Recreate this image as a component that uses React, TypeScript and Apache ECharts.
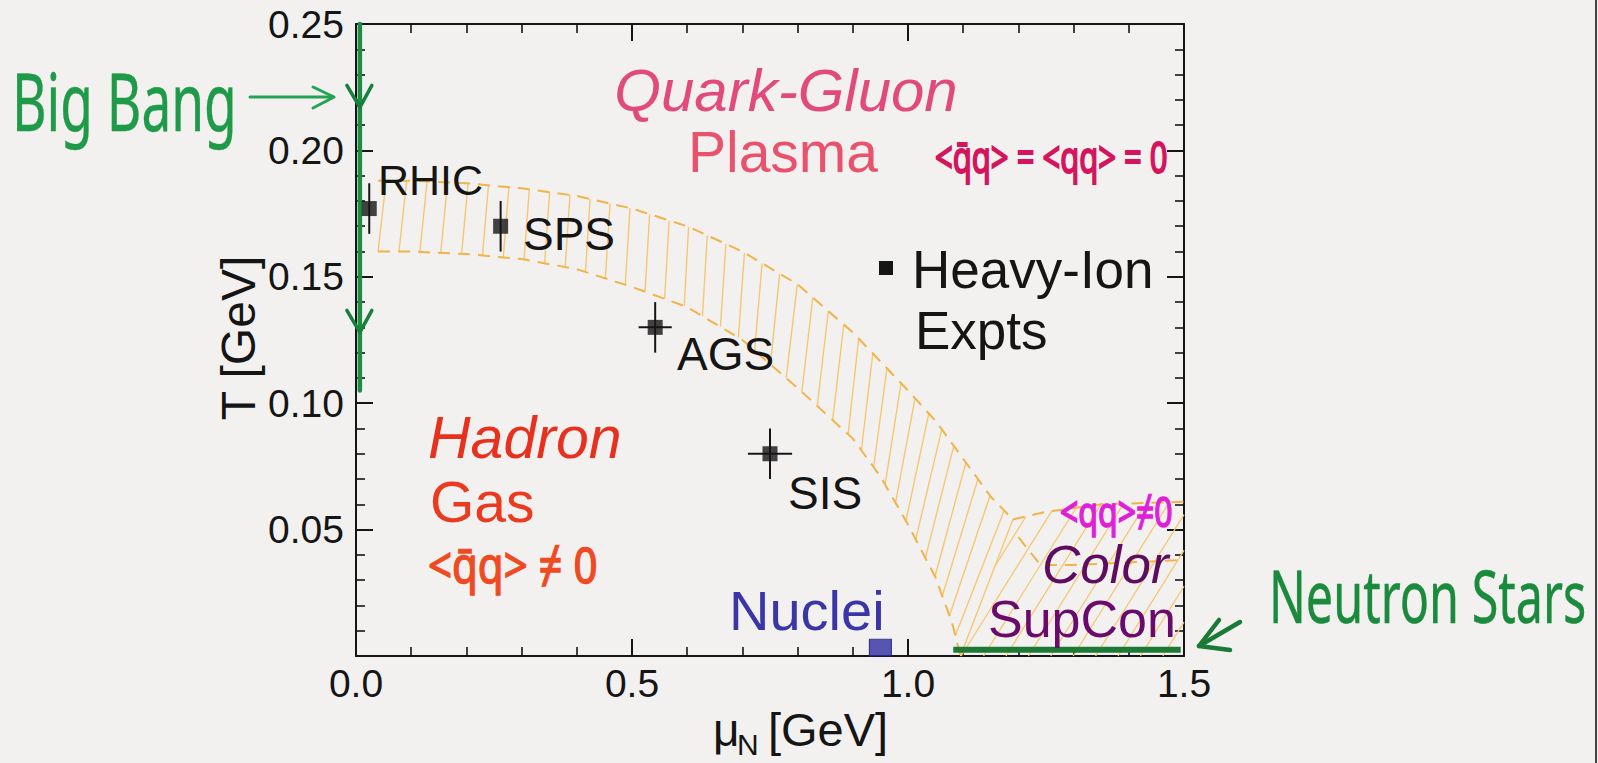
import React, { useEffect, useRef } from "react";
import * as echarts from "echarts";

// ---------- data ----------
const expNames = ["RHIC", "SPS", "AGS", "SIS"];
const expMu = [0.024, 0.262, 0.542, 0.75];
const expT = [0.177, 0.17, 0.13, 0.08];
const expMuErr = [0, 0, 0.03, 0.04];
const expTErr = [0.01, 0.01, 0.01, 0.01];

const nucleiMu = [0.95];
const nucleiT = [0.0033];

// transition band (hadron gas <-> QGP)
const bandUpperMu = [0.04, 0.1, 0.2, 0.3, 0.4, 0.5, 0.6, 0.7, 0.8, 0.9, 1.0, 1.05, 1.1, 1.15, 1.19];
const bandUpperT = [0.188, 0.188, 0.187, 0.185, 0.182, 0.177, 0.17, 0.16, 0.147, 0.128, 0.105, 0.093, 0.078, 0.063, 0.054];
const bandLowerMu = [0.04, 0.1, 0.2, 0.3, 0.4, 0.5, 0.6, 0.7, 0.8, 0.9, 0.95, 1.0, 1.05, 1.08, 1.095];
const bandLowerT = [0.16, 0.16, 0.159, 0.157, 0.153, 0.146, 0.138, 0.125, 0.106, 0.086, 0.071, 0.052, 0.031, 0.013, 0];

// color superconductor band
const cscUpperMu = [1.19, 1.25, 1.35, 1.5];
const cscUpperT = [0.054, 0.057, 0.06, 0.061];
const cscLowerMu = [1.2, 1.24, 1.3, 1.5];
const cscLowerT = [0.047, 0.036, 0.036, 0.038];

// annotations
const bigBangMu = [0.007, 0.007];
const bigBangT = [0.25, 0.105];
const bigBangArrowT = [0.217, 0.128];
const neutronMu = [1.082, 1.494];
const neutronT = [0.0025, 0.0025];

const xTicks = [0, 0.5, 1.0, 1.5];
const yTicks = [0.05, 0.1, 0.15, 0.2, 0.25];

// ---------- styles ----------
const SANS = "'Liberation Sans', Arial, Helvetica, sans-serif";
const HAND = "'Noto Sans', sans-serif";
const BG = "#f3f1f0";
const INK = "#151515";
const BAND_EDGE = "#f0b44a";
const BAND_HATCH = "#f6c772";

type P = number[];

function cum(p: P[]) {
  const c = [0];
  for (let i = 1; i < p.length; i++) c.push(c[i - 1] + Math.hypot(p[i][0] - p[i - 1][0], p[i][1] - p[i - 1][1]));
  return c;
}
function at(p: P[], c: number[], d: number): P {
  const L = c[c.length - 1];
  d = Math.max(0, Math.min(L, d));
  for (let i = 1; i < p.length; i++) {
    if (d <= c[i] || i === p.length - 1) {
      const seg = c[i] - c[i - 1] || 1;
      const t = (d - c[i - 1]) / seg;
      return [p[i - 1][0] + t * (p[i][0] - p[i - 1][0]), p[i - 1][1] + t * (p[i][1] - p[i - 1][1])];
    }
  }
  return p[p.length - 1];
}
function hatch(poly: P[], angleDeg: number, spacing: number) {
  const th = (angleDeg * Math.PI) / 180;
  const d = [Math.cos(th), -Math.sin(th)];
  const n = [Math.sin(th), Math.cos(th)];
  const proj = poly.map((p) => p[0] * n[0] + p[1] * n[1]);
  const cmin = Math.min(...proj);
  const cmax = Math.max(...proj);
  const segs: number[][] = [];
  for (let c = cmin + spacing / 2; c < cmax; c += spacing) {
    const ss: number[][] = [];
    for (let i = 0; i < poly.length; i++) {
      const j = (i + 1) % poly.length;
      const fa = proj[i] - c;
      const fb = proj[j] - c;
      if (fa < 0 !== fb < 0) {
        const t = fa / (fa - fb);
        const x = poly[i][0] + t * (poly[j][0] - poly[i][0]);
        const y = poly[i][1] + t * (poly[j][1] - poly[i][1]);
        ss.push([x * d[0] + y * d[1], x, y]);
      }
    }
    ss.sort((u, v) => u[0] - v[0]);
    for (let k = 0; k + 1 < ss.length; k += 2) segs.push([ss[k][1], ss[k][2], ss[k + 1][1], ss[k + 1][2]]);
  }
  return segs;
}

function txt(text: string, x: number, y: number, size: number, color: string, o: any = {}) {
  return {
    type: "text",
    x,
    y,
    rotation: o.rot ?? 0,
    scaleX: o.sx ?? 1,
    scaleY: o.sy ?? 1,
    z: 100,
    silent: true,
    style: {
      text,
      x: 0,
      y: 0,
      fill: color,
      fontSize: size,
      fontFamily: o.family ?? SANS,
      fontStyle: o.italic ? "italic" : "normal",
      fontWeight: o.weight ?? "normal",
      textAlign: o.align ?? "left",
      textVerticalAlign: "middle",
      verticalAlign: "middle",
      stroke: o.stroke,
      lineWidth: o.strokeW ?? 0,
    },
  };
}

export default function App() {
  const ref = useRef<HTMLDivElement>(null);
  useEffect(() => {
    if (!ref.current) return;
    const chart = echarts.init(ref.current, undefined, { renderer: "svg" });

    const axisCommon = {
      axisLine: { show: true, onZero: false, lineStyle: { color: INK, width: 2 } },
      axisTick: { show: true, inside: true, length: 17, lineStyle: { color: INK, width: 2 } },
      minorTick: { show: true, splitNumber: 5, length: 9, lineStyle: { color: INK, width: 1.6 } },
      splitLine: { show: false },
      minorSplitLine: { show: false },
    };

    const bandSeries = {
      type: "custom",
      silent: true,
      z: 1,
      data: [[0, 0]],
      renderItem: (_p: any, api: any) => {
        const up = bandUpperMu.map((m, i) => api.coord([m, bandUpperT[i]]));
        const lo = bandLowerMu.map((m, i) => api.coord([m, bandLowerT[i]]));
        const cu = cum(up);
        const cl = cum(lo);
        const Lu = cu[cu.length - 1];
        const Ll = cl[cl.length - 1];
        const n = Math.round(Ll / 21);
        const children: any[] = [];
        for (let k = 0; k <= n; k++) {
          const t = k / n;
          const a = at(lo, cl, t * Ll);
          const b = at(up, cu, t * Lu + 8);
          children.push({
            type: "line",
            shape: { x1: a[0], y1: a[1], x2: b[0], y2: b[1] },
            style: { stroke: BAND_HATCH, lineWidth: 1.4 },
          });
        }
        // csc region hatch
        const cscPoly = [
          api.coord([bandLowerMu[bandLowerMu.length - 1], 0]),
          ...cscUpperMu.map((m, i) => api.coord([m, cscUpperT[i]])),
          api.coord([1.5, 0]),
        ];
        hatch(cscPoly, 58, 19).forEach((s) =>
          children.push({
            type: "line",
            shape: { x1: s[0], y1: s[1], x2: s[2], y2: s[3] },
            style: { stroke: BAND_HATCH, lineWidth: 1.3 },
          })
        );
        const dashed = (pts: P[]) => ({
          type: "polyline",
          shape: { points: pts },
          style: { stroke: BAND_EDGE, lineWidth: 2, lineDash: [12, 8], fill: null },
        });
        children.push(dashed(up));
        children.push(dashed(lo));
        children.push(dashed(cscUpperMu.map((m, i) => api.coord([m, cscUpperT[i]]))));
        children.push(dashed(cscLowerMu.map((m, i) => api.coord([m, cscLowerT[i]]))));
        return { type: "group", children };
      },
    };

    const errSeries = {
      type: "custom",
      silent: true,
      z: 5,
      data: expMu.map((m, i) => [m, expT[i], expMuErr[i], expTErr[i]]),
      renderItem: (_p: any, api: any) => {
        const x = api.value(0), y = api.value(1), ex = api.value(2), ey = api.value(3);
        const children: any[] = [];
        const s = { stroke: INK, lineWidth: 2 };
        const a = api.coord([x, y - ey]);
        const b = api.coord([x, y + ey]);
        children.push({ type: "line", shape: { x1: a[0], y1: a[1], x2: b[0], y2: b[1] }, style: s });
        if (ex > 0) {
          const c = api.coord([x - ex, y]);
          const d = api.coord([x + ex, y]);
          children.push({ type: "line", shape: { x1: c[0], y1: c[1], x2: d[0], y2: d[1] }, style: s });
        }
        return { type: "group", children };
      },
    };

    const bigBangSeries = {
      type: "custom",
      silent: true,
      z: 6,
      data: [[0, 0]],
      renderItem: (_p: any, api: any) => {
        const a = api.coord([bigBangMu[0], bigBangT[0]]);
        const b = api.coord([bigBangMu[1], bigBangT[1]]);
        const children: any[] = [
          { type: "line", shape: { x1: a[0], y1: a[1], x2: b[0], y2: b[1] }, style: { stroke: "#1c8e44", lineWidth: 4.5, lineCap: "round" } },
        ];
        bigBangArrowT.forEach((t) => {
          const p = api.coord([bigBangMu[0], t]);
          children.push({
            type: "polyline",
            shape: { points: [[p[0] - 13, p[1] - 22], [p[0], p[1]], [p[0] + 12, p[1] - 22]] },
            style: { stroke: "#17803c", lineWidth: 3.5, fill: null, lineJoin: "round", lineCap: "round" },
          });
        });
        return { type: "group", children };
      },
    };

    const option: any = {
      animation: false,
      backgroundColor: BG,
      grid: { left: 356, right: 414, top: 24, bottom: 107, containLabel: false },
      xAxis: [
        {
          type: "value",
          min: 0,
          max: 1.5,
          interval: 0.5,
          position: "bottom",
          ...axisCommon,
          axisLabel: {
            show: true,
            margin: 8,
            fontSize: 39,
            fontFamily: SANS,
            color: INK,
            formatter: (v: number) => (xTicks.some((t) => Math.abs(t - v) < 1e-9) ? v.toFixed(1) : ""),
          },
        },
        { type: "value", min: 0, max: 1.5, interval: 0.5, position: "top", ...axisCommon, axisLabel: { show: false } },
      ],
      yAxis: [
        {
          type: "value",
          min: 0,
          max: 0.25,
          interval: 0.05,
          position: "left",
          ...axisCommon,
          axisLabel: {
            show: true,
            margin: 12,
            fontSize: 39,
            fontFamily: SANS,
            color: INK,
            showMinLabel: false,
            formatter: (v: number) => (yTicks.some((t) => Math.abs(t - v) < 1e-9) ? v.toFixed(2) : ""),
          },
        },
        { type: "value", min: 0, max: 0.25, interval: 0.05, position: "right", ...axisCommon, axisLabel: { show: false } },
      ],
      series: [
        bandSeries,
        {
          type: "line",
          name: "Neutron Stars",
          silent: true,
          z: 4,
          data: neutronMu.map((m, i) => [m, neutronT[i]]),
          symbol: "none",
          lineStyle: { color: "#1d7a34", width: 6 },
        },
        errSeries,
        {
          type: "scatter",
          name: "Heavy-Ion Expts",
          z: 7,
          data: expMu.map((m, i) => ({ name: expNames[i], value: [m, expT[i]] })),
          symbol: "rect",
          symbolSize: 15,
          itemStyle: { color: INK },
        },
        {
          type: "scatter",
          name: "Nuclei",
          z: 7,
          data: nucleiMu.map((m, i) => [m, nucleiT[i]]),
          symbol: "rect",
          symbolSize: [22, 17],
          itemStyle: { color: "#2e2ea4", borderColor: "#1c1c70", borderWidth: 1 },
        },
        bigBangSeries,
      ],
      graphic: [
        // experiment labels
        txt("RHIC", 378, 180, 43, INK),
        txt("SPS", 523, 234, 46, INK),
        txt("AGS", 677, 354, 46, INK),
        txt("SIS", 788, 493, 46, INK),
        // legend-like marker
        { type: "rect", shape: { x: 879, y: 261, width: 14, height: 14 }, style: { fill: INK }, z: 100, silent: true },
        txt("Heavy-Ion", 912, 269, 53, INK),
        txt("Expts", 915, 330, 53, INK),
        // phases
        txt("Quark-Gluon", 786, 90, 60, "#e24a7c", { italic: true, align: "center" }),
        txt("Plasma", 783, 152, 57, "#e8526c", { align: "center" }),
        txt("<q̄q> = <qq> = 0", 935, 156, 31, "#d4145c", { family: HAND, sy: 1.4, strokeW: 1.4, stroke: "#d4145c" }),
        txt("Hadron", 428, 438, 59, "#e8301e", { italic: true }),
        txt("Gas", 430, 502, 57, "#ec3a20"),
        txt("<q̄q> ≠ 0", 428, 564, 42, "#f04a22", { family: HAND, sx: 1.0, sy: 1.15, strokeW: 1.2, stroke: "#f04a22" }),
        txt("Nuclei", 729, 610, 56, "#3a36a8"),
        txt("<qq>≠0", 1060, 511, 32, "#e020d8", { family: HAND, sy: 1.3, strokeW: 1.2, stroke: "#e020d8" }),
        txt("Color", 1042, 564, 53, "#5e0c5e", { italic: true }),
        txt("SupCon", 988, 619, 52, "#6a0a6a"),
        // axis names
        txt("T [GeV]", 238, 338, 48, INK, { rot: Math.PI / 2, align: "center" }),
        txt("μ", 713, 730, 46, INK),
        txt("N", 737, 744, 30, INK),
        txt("[GeV]", 768, 729, 47, INK),
        // handwritten annotations
        txt("Big Bang", 12, 100, 56, "#1e9a48", { family: HAND, sx: 0.95, sy: 1.45, strokeW: 0.3, stroke: "#1e9a48" }),
        { type: "line", shape: { x1: 250, y1: 97, x2: 333, y2: 97 }, style: { stroke: "#22a452", lineWidth: 3, lineCap: "round" }, z: 100, silent: true },
        { type: "polyline", shape: { points: [[313, 87], [334, 97], [313, 108]] }, style: { stroke: "#22a452", lineWidth: 3, fill: null, lineCap: "round", lineJoin: "round" }, z: 100, silent: true },
        txt("Neutron Stars", 1269, 594, 49, "#1a8a3c", { family: HAND, sx: 0.99, sy: 1.5, strokeW: 0.3, stroke: "#1a8a3c" }),
        { type: "line", shape: { x1: 1240, y1: 622, x2: 1199, y2: 646 }, style: { stroke: "#1a7a35", lineWidth: 4.5, lineCap: "round" }, z: 100, silent: true },
        { type: "polyline", shape: { points: [[1219, 620], [1199, 646], [1230, 650]] }, style: { stroke: "#1a7a35", lineWidth: 4.5, fill: null, lineCap: "round", lineJoin: "round" }, z: 100, silent: true },
        // scan edge
        { type: "line", shape: { x1: 1596, y1: 0, x2: 1596, y2: 763 }, style: { stroke: "#444", lineWidth: 2 }, z: 100, silent: true },
      ],
    };

    chart.setOption(option);
    return () => chart.dispose();
  }, []);

  return (
    <div
      ref={ref}
      style={{ position: "fixed", left: 0, top: 0, width: 1598, height: 763, background: BG }}
    />
  );
}
